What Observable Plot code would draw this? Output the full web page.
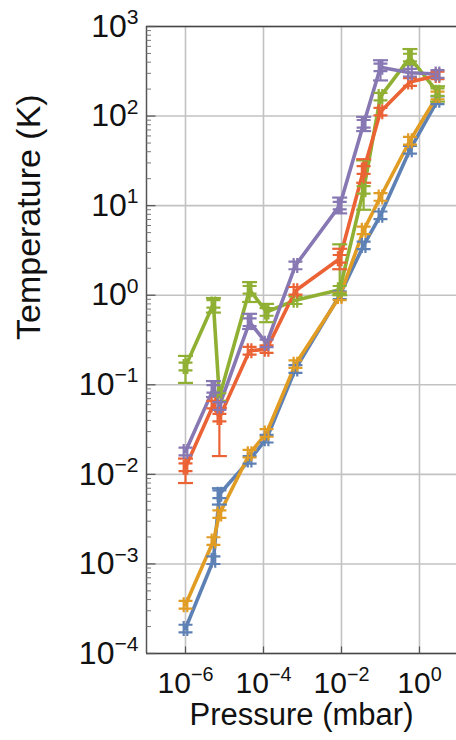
<!DOCTYPE html>
<html>
<head>
<meta charset="utf-8">
<script src="https://cdn.jsdelivr.net/npm/d3@7"></script>
<script src="https://cdn.jsdelivr.net/npm/@observablehq/plot@0.6"></script>
<style>
  html, body { margin: 0; padding: 0; background: #fff; }
  #chart svg { display: block; }
</style>
</head>
<body>
<div id="chart"></div>
<script>
// ---- data ----
const pressure = [1e-6, 5.2e-6, 7.4e-6, 4.4e-5, 1.2e-4, 6.6e-4, 9e-3, 3.7e-2, 0.1, 0.57, 2.9];

const seriesNames = ["S1", "S2", "S3", "S4", "S5"];
const seriesColors = ["#5E81B5", "#E19C24", "#8FB032", "#EB6235", "#8778B3"];

const s1T = [1.9e-4, 1.1e-3, 6.0e-3, 1.45e-2, 2.5e-2, 0.15, 1.0, 3.6, 7.8, 42, 150];
const s2T = [3.5e-4, 1.8e-3, 3.6e-3, 1.7e-2, 2.9e-2, 0.17, 0.97, 5.3, 12.5, 53, 170];
const s3T = [0.16, 0.80, 0.073, 1.15, 0.65, 0.88, 1.15, 15, 165, 450, 185];
const s4T = [0.012, 0.060, 0.043, 0.24, 0.25, 1.12, 2.55, 25, 112, 240, 284];
const s5T = [0.018, 0.09, 0.058, 0.5, 0.29, 2.15, 10, 82, 350, 305, 295];

// error bar bounds (null = no visible bar beyond the marker)
const s1Lo = [null, null, 4.6e-3, null, null, null, null, null, null, null, null];
const s1Hi = [null, null, 7.0e-3, null, null, null, null, null, null, null, null];
const s2Lo = [null, null, null, null, null, null, null, null, null, null, null];
const s2Hi = [null, null, null, null, null, null, null, null, null, null, null];
const s3Lo = [0.105, 0.64, null, 0.84, 0.5, null, 1.0, 9, null, 370, 145];
const s3Hi = [0.21, 0.93, null, 1.4, 0.8, null, 3.7, 32, null, 560, 215];
const s4Lo = [0.008, null, 0.016, null, null, null, 1.95, 18, null, null, null];
const s4Hi = [0.015, null, 0.055, null, null, null, 3.3, 33, null, null, null];
const s5Lo = [null, 0.073, null, 0.42, null, null, 8.2, 68, 250, null, null];
const s5Hi = [null, 0.11, null, 0.62, null, null, 12.3, 98, 420, null, null];

const xDomain = [1e-7, 8.9];
const yDomain = [1e-4, 1e3];
const xLabelTicks = [1e-6, 1e-4, 1e-2, 1e0];
const yLabelTicks = [1e-4, 1e-3, 1e-2, 1e-1, 1e0, 1e1, 1e2, 1e3];
const yMinorMultipliers = [2, 3, 4, 5, 6, 7, 8, 9];

// ---- table for the library ----
const seriesT = [s1T, s2T, s3T, s4T, s5T];
const seriesLo = [s1Lo, s2Lo, s3Lo, s4Lo, s5Lo];
const seriesHi = [s1Hi, s2Hi, s3Hi, s4Hi, s5Hi];
const rows = [];
seriesNames.forEach((s, si) => {
  pressure.forEach((p, i) => {
    rows.push({series: s, p, t: seriesT[si][i], lo: seriesLo[si][i], hi: seriesHi[si][i]});
  });
});
const errRows = rows.filter(d => d.lo != null && d.hi != null);

const yMinor = [];
for (let k = -4; k < 3; k++) for (const m of yMinorMultipliers) yMinor.push(m * Math.pow(10, k));

// ---- marker shapes ----
const hashSymbol = {draw(ctx) {
  ctx.moveTo(-7, -3.8); ctx.lineTo(7, -3.8);
  ctx.moveTo(-7, 3.8); ctx.lineTo(7, 3.8);
  ctx.moveTo(-1.8, -7.5); ctx.lineTo(-1.8, 7.5);
  ctx.moveTo(1.8, -7.5); ctx.lineTo(1.8, 7.5);
}};
const capSymbol = {draw(ctx) { ctx.moveTo(-7.5, 0); ctx.lineTo(7.5, 0); }};
const yMajorTick = {draw(ctx) { ctx.moveTo(0, 0); ctx.lineTo(9, 0); }};
const yMinorTick = {draw(ctx) { ctx.moveTo(0, 0); ctx.lineTo(4.5, 0); }};
const xMajorTick = {draw(ctx) { ctx.moveTo(0, 0); ctx.lineTo(0, -7); }};

const fmt = d => "10^" + String(Math.round(Math.log10(d))).replace("-", "\u2212");

const plot = Plot.plot({
  width: 456,
  height: 740,
  marginLeft: 146,
  marginRight: 0,
  marginTop: 26,
  marginBottom: 87,
  style: {fontFamily: "'Liberation Sans', Arial, sans-serif", fontSize: "31px", color: "#111", background: "#fff"},
  x: {type: "log", domain: xDomain},
  y: {type: "log", domain: yDomain},
  color: {domain: seriesNames, range: seriesColors},
  marks: [
    Plot.ruleX(xLabelTicks, {stroke: "#c2c2c2", strokeWidth: 1.6}),
    Plot.ruleY(yLabelTicks, {stroke: "#c2c2c2", strokeWidth: 1.6}),
    Plot.ruleX([xDomain[0]], {stroke: "#555", strokeWidth: 1.5}),
    Plot.ruleY([yDomain[0], yDomain[1]], {stroke: "#444", strokeWidth: 1.5}),
    Plot.dot(yLabelTicks, {x: () => xDomain[0], y: d => d, symbol: yMajorTick, stroke: "#555", fill: "none", strokeWidth: 1.2}),
    Plot.dot(yMinor, {x: () => xDomain[0], y: d => d, symbol: yMinorTick, stroke: "#777", fill: "none", strokeWidth: 1}),
    Plot.dot(xLabelTicks, {x: d => d, y: () => yDomain[0], symbol: xMajorTick, stroke: "#555", fill: "none", strokeWidth: 1.2}),
    Plot.line(rows, {x: "p", y: "t", z: "series", stroke: "series", strokeWidth: 3.6, strokeLinejoin: "round"}),
    Plot.ruleX(errRows, {x: "p", y1: "lo", y2: "hi", stroke: "series", strokeWidth: 2.2}),
    Plot.dot(errRows, {x: "p", y: "lo", stroke: "series", symbol: capSymbol, fill: "none", strokeWidth: 2.2}),
    Plot.dot(errRows, {x: "p", y: "hi", stroke: "series", symbol: capSymbol, fill: "none", strokeWidth: 2.2}),
    Plot.dot(rows, {x: "p", y: "t", stroke: "series", symbol: hashSymbol, fill: "none", strokeWidth: 2.2}),
    Plot.axisY(yLabelTicks, {anchor: "left", tickSize: 0, tickPadding: 8, tickFormat: fmt, fontSize: 32, label: null}),
    Plot.axisX(xLabelTicks, {anchor: "bottom", tickSize: 0, tickPadding: 18, tickFormat: fmt, fontSize: 30, label: null}),
    Plot.text(["Temperature (K)"], {frameAnchor: "left", dx: -117, rotate: -90, fontSize: 34, fill: "#111"}),
    Plot.text(["Pressure (mbar)"], {frameAnchor: "bottom", dy: 71, fontSize: 31, fill: "#111"})
  ]
});

// render exponents as superscript tspans
const ns = "http://www.w3.org/2000/svg";
d3.select(plot).selectAll("text").each(function() {
  const m = this.textContent.match(/^10\^(.+)$/);
  if (m) {
    this.textContent = "10";
    const t = document.createElementNS(ns, "tspan");
    t.setAttribute("dy", "-0.6em");
    t.setAttribute("font-size", "0.66em");
    t.textContent = m[1];
    this.appendChild(t);
  }
});

document.getElementById("chart").appendChild(plot);
</script>
</body>
</html>
